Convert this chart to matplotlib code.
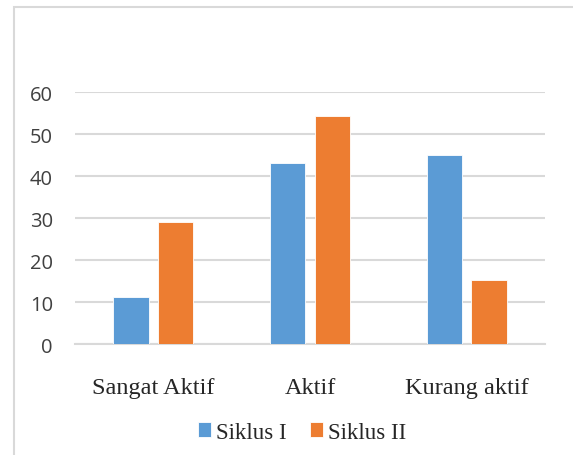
import numpy as np
import matplotlib.pyplot as plt
from matplotlib.patches import Rectangle

# data
categories = ["Sangat Aktif", "Aktif", "Kurang aktif"]
siklus_1 = [11.1, 43.0, 44.9]
siklus_2 = [29.1, 54.4, 15.3]
series_names = ["Siklus I", "Siklus II"]
y_ticks = [0, 10, 20, 30, 40, 50, 60]

blue = "#5B9BD5"
orange = "#ED7D31"
grid_col = "#D9D9D9"

fig = plt.figure(figsize=(5.73, 4.56), dpi=100)
ax = fig.add_axes([0.131, 0.2434, 0.82, 0.5526])

x = np.arange(len(categories))
w = 0.225
off = 0.143
ax.bar(x - off, siklus_1, w, color=blue, edgecolor="white", linewidth=0.6,
       label=series_names[0], zorder=3)
ax.bar(x + off, siklus_2, w, color=orange, edgecolor="white", linewidth=0.6,
       label=series_names[1], zorder=3)

ax.set_xlim(-0.5, len(categories) - 0.5)
ax.set_ylim(0, 60)
ax.set_yticks(y_ticks)
ax.set_xticks(x)
ax.set_xticklabels(categories, family="Liberation Serif", fontsize=17.5,
                   color="#262626")
for lab in ax.get_yticklabels():
    lab.set_family("Open Sans")
    lab.set_fontsize(14.5)
    lab.set_color("#404040")

ax.grid(axis="y", color=grid_col, linewidth=1.5, zorder=0)
for s in ["top", "right", "left"]:
    ax.spines[s].set_visible(False)
ax.spines["bottom"].set_color(grid_col)
ax.spines["bottom"].set_linewidth(1.5)
ax.tick_params(axis="both", length=0)
ax.tick_params(axis="x", pad=24)
ax.tick_params(axis="y", pad=16)

leg = fig.legend(loc="center", bbox_to_anchor=(0.527, 0.05), ncol=2,
                 frameon=False, prop={"family": "Liberation Serif", "size": 16.5},
                 handlelength=0.6, handleheight=0.6, handletextpad=0.2,
                 columnspacing=1.0)
for t in leg.get_texts():
    t.set_color("#262626")

# outer chart border (cut off on the right and bottom in the reference)
fig.patches.append(Rectangle((0.0244, -0.1), 1.2, 1.082, transform=fig.transFigure,
                             fill=False, edgecolor=grid_col, linewidth=1.5))

fig.savefig("out.png", dpi=100)
